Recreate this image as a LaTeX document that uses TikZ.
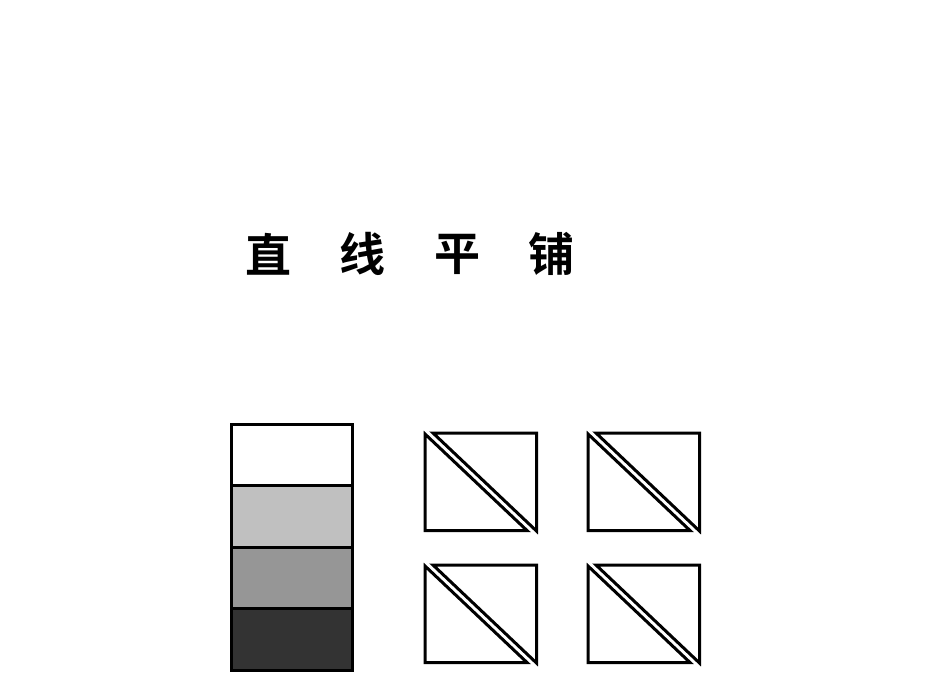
\documentclass[tikz,border=0pt]{standalone}
\usepackage{fontspec}
\newfontfamily\cjk{Noto Sans CJK SC Bold}
\definecolor{gA}{HTML}{C0C0C0}
\definecolor{gB}{HTML}{969696}
\definecolor{gC}{HTML}{333333}
\begin{document}
\begin{tikzpicture}[x=1pt,y=-1pt,
  edge/.style={draw=black,line width=3pt,line join=miter},
  title/.style={font=\cjk\fontsize{46}{50}\selectfont,inner sep=0pt}]
\useasboundingbox (0,0) rectangle (950,672);
\node[title] (t1) at (268,254) {直};
\node[title] (t2) at (362,254) {线};
\node[title] (t3) at (457,254) {平};
\node[title] (t4) at (551,254) {铺};
% stacked bars
\draw[edge,fill=white] (231.5,424.5) rectangle (352.5,485.5);
\draw[edge,fill=gA] (231.5,485.5) rectangle (352.5,547);
\draw[edge,fill=gB] (231.5,547) rectangle (352.5,608.5);
\draw[edge,fill=gC] (231.5,608.5) rectangle (352.5,670);
% split squares
\foreach \dx/\dy in {0/0,163/0,0/132,163/132}{
  \begin{scope}[shift={(\dx,\dy)}]
  \draw[edge] (425,434) -- (425,530.5) -- (527,530.5) -- cycle;
  \draw[edge] (433,433) -- (536.5,433) -- (536.5,531) -- cycle;
  \end{scope}
}
\end{tikzpicture}
\end{document}
